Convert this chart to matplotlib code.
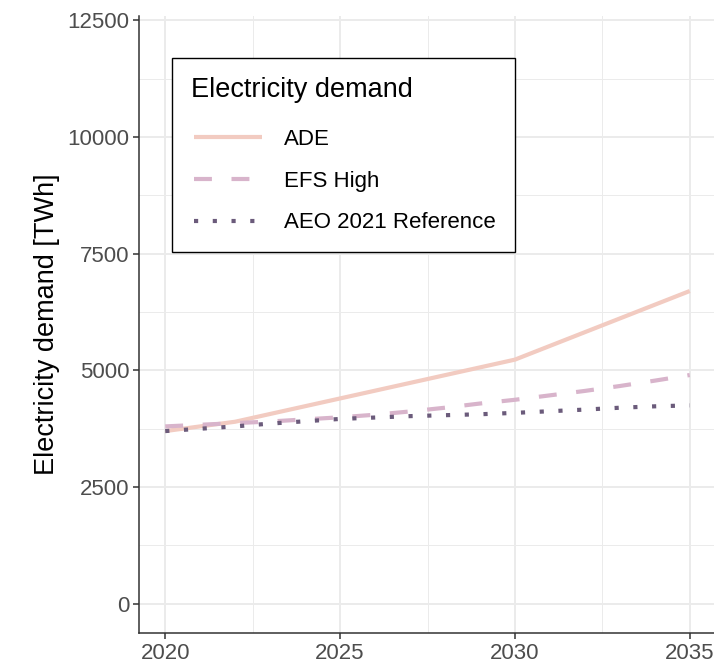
import matplotlib
matplotlib.use('Agg')
import matplotlib.pyplot as plt
from matplotlib.ticker import MultipleLocator
from matplotlib.legend_handler import HandlerLine2D

plt.rcParams['font.family'] = ['Liberation Sans', 'DejaVu Sans']

# demand scenarios, TWh
ade_years = [2020, 2022, 2030, 2035]
ade_values = [3700, 3900, 5230, 6700]

efs_years = list(range(2020, 2036))
efs_values = [3800, 3835, 3870, 3905, 3950, 3995, 4050, 4120, 4200, 4290,
              4370, 4465, 4560, 4665, 4780, 4900]

aeo_years = list(range(2020, 2036))
aeo_values = [3700, 3750, 3800, 3860, 3910, 3960, 3990, 4020, 4040, 4060,
              4090, 4125, 4160, 4200, 4230, 4250]

series_labels = ['ADE', 'EFS High', 'AEO 2021 Reference']
series_colors = ['#F2CBC1', '#D8B4CB', '#6B5B7B']

fig = plt.figure(figsize=(7.14, 6.64), dpi=100)
ax = fig.add_axes([139 / 714, (664 - 633) / 664, 577 / 714, 617 / 664])

lw = 3.0
l1, = ax.plot(ade_years, ade_values, color=series_colors[0], lw=lw,
              solid_capstyle='butt', label=series_labels[0])
l2, = ax.plot(efs_years, efs_values, color=series_colors[1], lw=lw,
              linestyle=(0, (4.3, 4.7)), dash_capstyle='butt', label=series_labels[1])
l3, = ax.plot(aeo_years, aeo_values, color=series_colors[2], lw=lw,
              linestyle=(0, (1.0, 3.5)), dash_capstyle='butt', label=series_labels[2])

ax.set_xlim(2019.25, 2035.75)
ax.set_ylim(-625, 12590)
ax.xaxis.set_major_locator(MultipleLocator(5))
ax.xaxis.set_minor_locator(MultipleLocator(2.5))
ax.yaxis.set_major_locator(MultipleLocator(2500))
ax.yaxis.set_minor_locator(MultipleLocator(1250))

ax.grid(which='major', color='#EBEBEB', lw=1.4)
ax.grid(which='minor', color='#EBEBEB', lw=0.7)
ax.set_axisbelow(True)

for s in ['top', 'right']:
    ax.spines[s].set_visible(False)
for s in ['left', 'bottom']:
    ax.spines[s].set_color('#333333')
    ax.spines[s].set_linewidth(1.1)

ax.tick_params(which='major', length=4, width=1.1, color='#333333',
               labelsize=16, labelcolor='#4D4D4D', pad=3)
ax.tick_params(which='minor', length=0)

ax.set_ylabel('Electricity demand [TWh]', fontsize=19.5, labelpad=5)

# keys start a little right of the title
hmap = {l: HandlerLine2D(xpad=0.15) for l in (l1, l2, l3)}
leg = ax.legend(title='Electricity demand', loc='upper left',
                bbox_to_anchor=(172 / 714, 1 - 58 / 664), bbox_transform=fig.transFigure,
                fontsize=16, title_fontsize=19.5, alignment='left', handler_map=hmap,
                handlelength=3.2, handletextpad=1.0, labelspacing=0.935,
                borderpad=0.85, borderaxespad=0, fancybox=False, framealpha=1)
leg._legend_box.sep = 18.6  # more room under the title
leg.get_frame().set_edgecolor('black')
leg.get_frame().set_linewidth(1.0)

fig.savefig('out.png', dpi=100)
